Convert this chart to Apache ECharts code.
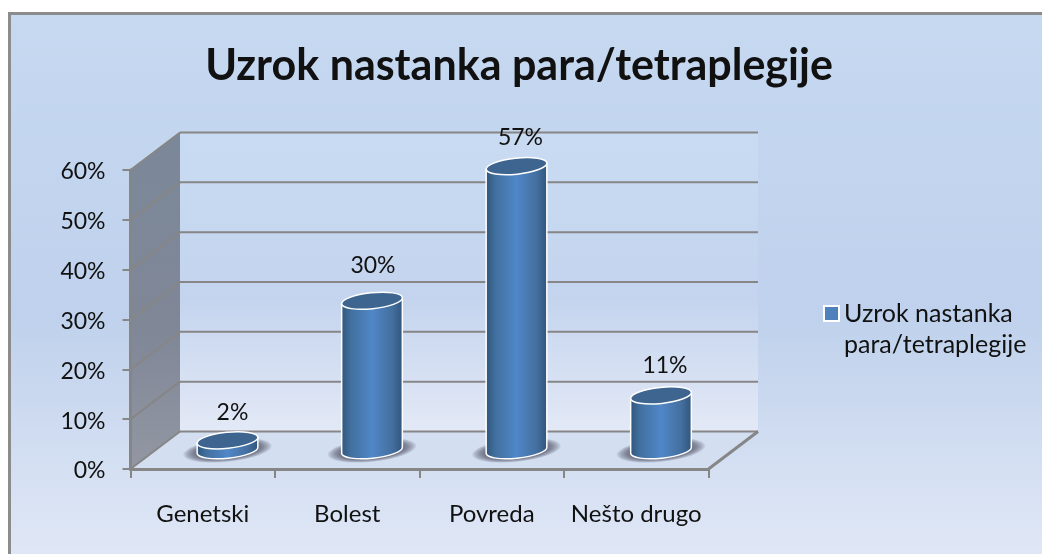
<!DOCTYPE html>
<html>
<head>
<meta charset="utf-8">
<style>html,body{margin:0;padding:0;background:#fff}#c{width:1042px;height:554px}</style>
<script src="https://cdn.jsdelivr.net/npm/echarts@6/dist/echarts.min.js"></script>
</head>
<body>
<div id="c"></div>
<script>
const categories = ['Genetski', 'Bolest', 'Povreda', 'Nešto drugo'];
const seriesName = 'Uzrok nastanka para/tetraplegije';
const values = [2, 30, 57, 11];
const yTicks = [0, 10, 20, 30, 40, 50, 60];

const FONT = 'Lato, sans-serif';
const TEXT = '#111';
const LINE = '#868686';
const DEPTH_X = 49.5, DEPTH_Y = -37.5;
const RX = 30.5, RY = 8, TILT = -6;
const labelNudge = [[5, 2], [1, -5], [4, 1], [4, 0]];
const shadowRings = [14, 12.5, 11, 9.5, 8, 6.5, 5, 3.5];

function pt(cx, cy, dx, dy) { // rotated offset from an ellipse centre
  const t = TILT * Math.PI / 180;
  return [cx + dx * Math.cos(t) - dy * Math.sin(t), cy + dx * Math.sin(t) + dy * Math.cos(t)];
}
function ellipsePath(cx, cy, rx, ry) {
  const a = pt(cx, cy, -rx, 0), b = pt(cx, cy, rx, 0);
  return `M${a[0]} ${a[1]} A${rx} ${ry} ${TILT} 1 1 ${b[0]} ${b[1]} A${rx} ${ry} ${TILT} 1 1 ${a[0]} ${a[1]} Z`;
}

function renderWalls(params, api) {
  const g = params.coordSys;
  const x0 = g.x, x1 = g.x + g.width, yB = g.y + g.height, yT = g.y;
  const bx0 = x0 + DEPTH_X, bx1 = x1 + DEPTH_X;
  const children = [
    { type: 'polygon', shape: { points: [[bx0, yT + DEPTH_Y], [bx1, yT + DEPTH_Y], [bx1, yB + DEPTH_Y], [bx0, yB + DEPTH_Y]] },
      style: { fill: new echarts.graphic.LinearGradient(0, 0, 0, 1, [
        { offset: 0, color: '#c9dbf3' }, { offset: 0.55, color: '#c4d4ee' }, { offset: 1, color: '#e3e9f6' }]) } },
    { type: 'polygon', shape: { points: [[x0, yB], [x1, yB], [bx1, yB + DEPTH_Y], [bx0, yB + DEPTH_Y]] },
      style: { fill: '#d3dff1' } },
    { type: 'polygon', shape: { points: [[x0, yT], [bx0, yT + DEPTH_Y], [bx0, yB + DEPTH_Y], [x0, yB]] },
      style: { fill: new echarts.graphic.LinearGradient(0, 0, 0, 1, [
        { offset: 0, color: '#7b8899' }, { offset: 0.6, color: '#808797' }, { offset: 1, color: '#9397a3' }]) } }
  ];
  yTicks.forEach(function (t) {
    const y = api.coord([0, t])[1];
    children.push({ type: 'line', shape: { x1: bx0, y1: y + DEPTH_Y, x2: bx1, y2: y + DEPTH_Y }, style: { stroke: LINE, lineWidth: 2 } });
    children.push({ type: 'line', shape: { x1: x0, y1: y, x2: bx0, y2: y + DEPTH_Y }, style: { stroke: LINE, lineWidth: 2 } });
  });
  children.push({ type: 'line', shape: { x1: x1, y1: yB, x2: bx1, y2: yB + DEPTH_Y }, style: { stroke: LINE, lineWidth: 3 } });
  return { type: 'group', children: children };
}

function renderCylinder(params, api) {
  const i = api.value(0), v = api.value(1);
  const base = api.coord([i, 0]), top = api.coord([i, v]);
  const cx = base[0] + DEPTH_X / 2, yb = base[1] + DEPTH_Y / 2 , yt = top[1] + DEPTH_Y / 2;
  const lb = pt(cx, yb, -RX, 0), rb = pt(cx, yb, RX, 0), lt = pt(cx, yt, -RX, 0), rt = pt(cx, yt, RX, 0);
  const bodyPath = `M${lt[0]} ${lt[1]} L${lb[0]} ${lb[1]} A${RX} ${RY} ${TILT} 0 0 ${rb[0]} ${rb[1]} L${rt[0]} ${rt[1]} Z`;
  const nudge = labelNudge[i];
  const rings = shadowRings.map(function (k) {
    return { type: 'path', shape: { pathData: ellipsePath(cx, yb, RX + k, RY + k * 0.25) },
      style: { fill: 'rgba(62,68,84,0.11)' } };
  });
  return { type: 'group', children: rings.concat([
    { type: 'path', shape: { pathData: bodyPath },
      style: { stroke: '#fff', lineWidth: 1.5,
        fill: new echarts.graphic.LinearGradient(0, 0, 1, 0, [
          { offset: 0, color: '#2f5378' }, { offset: 0.16, color: '#41709f' },
          { offset: 0.5, color: '#5087c8' }, { offset: 0.82, color: '#446f9f' }, { offset: 1, color: '#30547a' }]) } },
    { type: 'path', shape: { pathData: ellipsePath(cx, yt, RX, RY) },
      style: { fill: '#3d658f', stroke: '#fff', lineWidth: 1.5 } },
    { type: 'text', x: cx + nudge[0], y: yt - 30 + nudge[1],
      style: { text: v + '%', fill: TEXT, font: '23px ' + FONT, align: 'center', verticalAlign: 'middle' } }
  ]) };
}

const chart = echarts.init(document.getElementById('c'), null, { renderer: 'canvas', width: 1042, height: 554 });
chart.setOption({
  animation: false,
  backgroundColor: '#fff',
  graphic: [{
    type: 'rect', z: -10, shape: { x: 9.5, y: 13.5, width: 1040, height: 548 },
    style: { stroke: '#8c8c8c', lineWidth: 3,
      fill: new echarts.graphic.LinearGradient(0, 0, 0, 1, [
        { offset: 0, color: '#c6d9f1' }, { offset: 0.55, color: '#bfd1ec' }, { offset: 1, color: '#e1e8f6' }]) }
  }],
  title: {
    text: seriesName, left: 514, top: 40, textAlign: 'center',
    textStyle: { fontFamily: FONT, fontWeight: 'bold', fontSize: 43, color: TEXT }
  },
  legend: {
    left: 818, top: 262, orient: 'vertical', itemWidth: 15, itemHeight: 15, itemGap: 0, icon: 'rect',
    data: [seriesName], selectedMode: false,
    formatter: function () { return ' \nUzrok nastanka\npara/tetraplegije'; },
    itemStyle: { borderColor: '#fff', borderWidth: 2 },
    textStyle: { fontFamily: FONT, fontSize: 25, lineHeight: 31, color: TEXT }
  },
  grid: { left: 130.5, top: 170, width: 578, height: 299, containLabel: false },
  xAxis: {
    type: 'category', data: categories, z: 5,
    axisLine: { lineStyle: { color: LINE, width: 3 } },
    axisTick: { show: true, interval: 0, length: 9, lineStyle: { color: LINE, width: 2 } },
    axisLabel: { interval: 0, color: TEXT, fontFamily: FONT, fontSize: 24, margin: 33 }
  },
  yAxis: {
    type: 'value', min: 0, max: 60, interval: 10, z: 5,
    splitLine: { show: false },
    axisLine: { show: true, lineStyle: { color: LINE, width: 3 } },
    axisTick: { show: true, length: 8, lineStyle: { color: LINE, width: 2 } },
    axisLabel: { color: TEXT, margin: 25, formatter: '{v|{value}%}',
      rich: { v: { fontFamily: FONT, fontSize: 23, color: TEXT, padding: [4, 0, 0, 0] } } }
  },
  series: [
    { type: 'custom', z: 1, silent: true, legendHoverLink: false, renderItem: renderWalls, data: [0], encode: { x: 0 } , clip: false},
    { type: 'custom', z: 6, name: seriesName, renderItem: renderCylinder, clip: false,
      itemStyle: { color: '#4f81bd' },
      data: values.map(function (v, i) { return [i, v]; }), encode: { x: 0, y: 1 } }
  ]
});
</script>
</body>
</html>
